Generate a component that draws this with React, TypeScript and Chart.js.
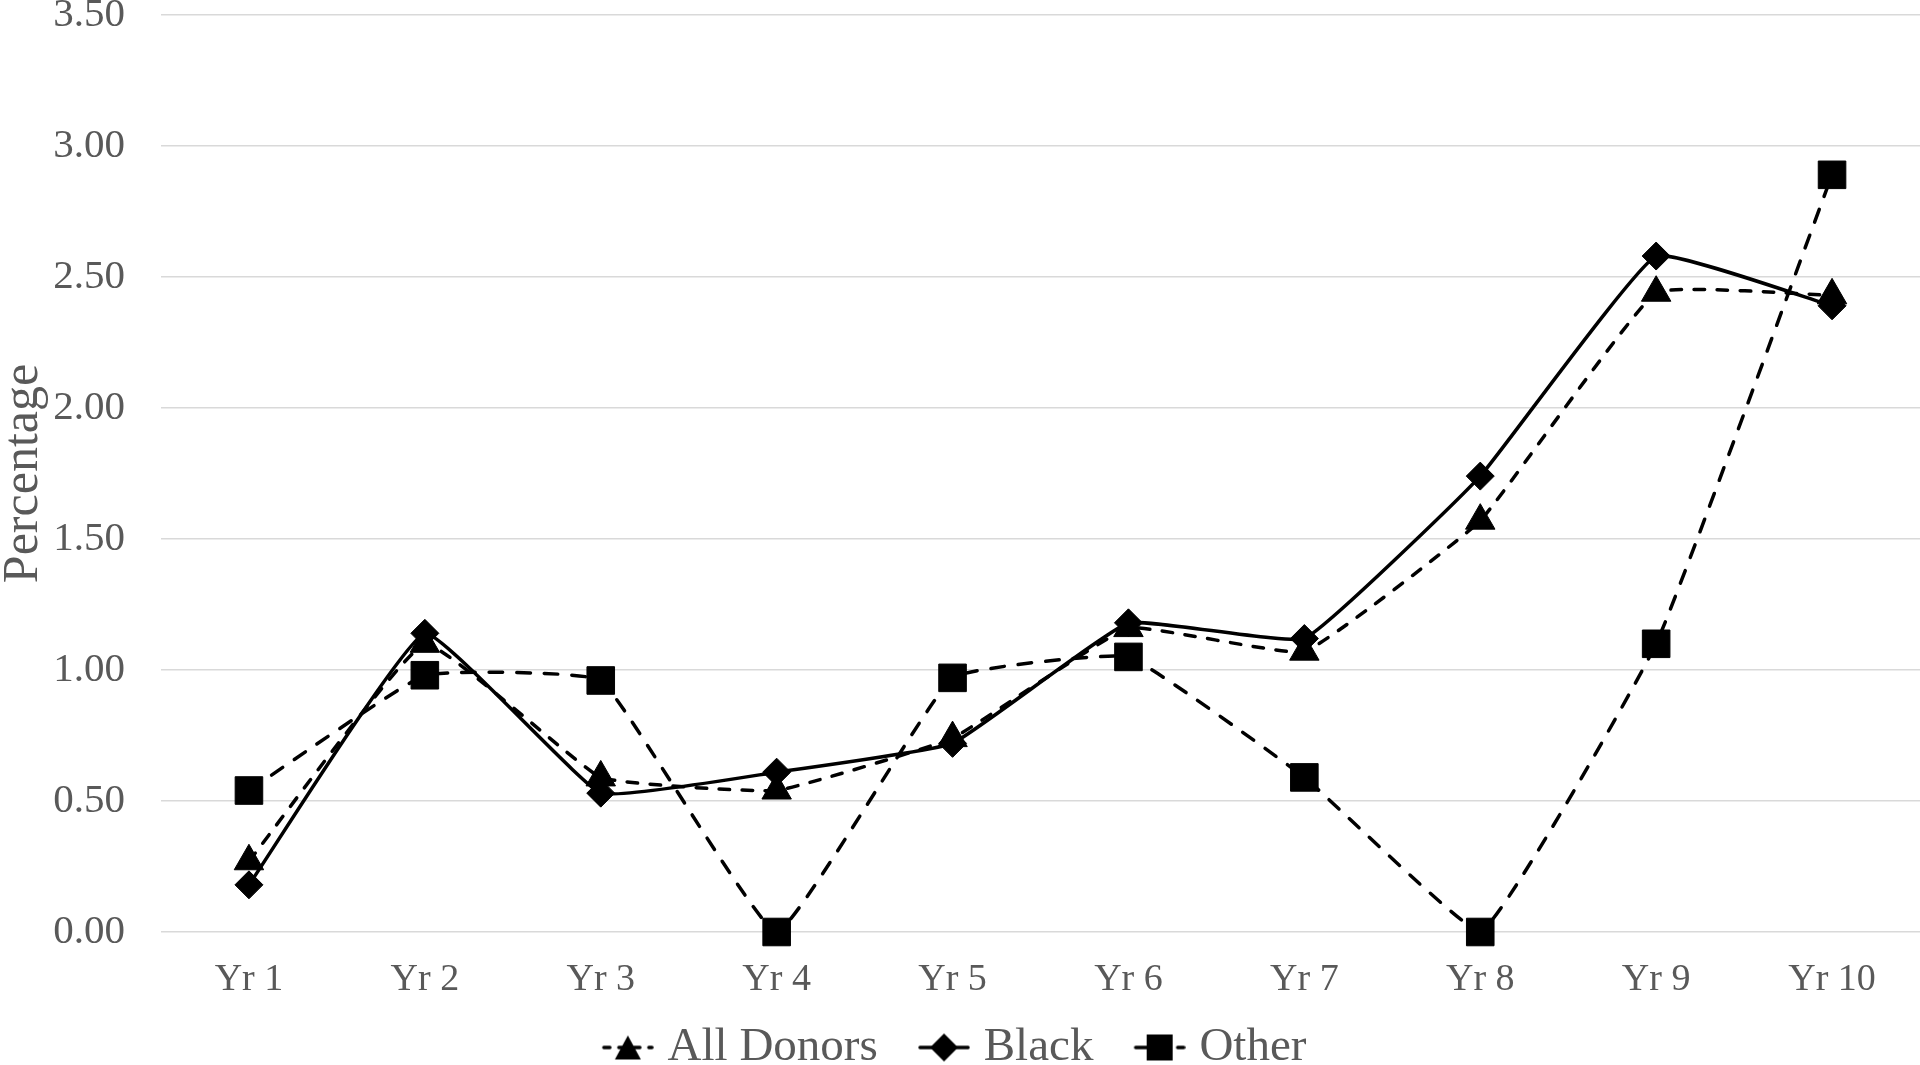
import React, { useEffect, useRef } from 'react';
import { Chart, registerables } from 'chart.js';

Chart.register(...registerables);

const categories = ['Yr 1', 'Yr 2', 'Yr 3', 'Yr 4', 'Yr 5', 'Yr 6', 'Yr 7', 'Yr 8', 'Yr 9', 'Yr 10'];
const allDonors = [0.27, 1.1, 0.59, 0.54, 0.74, 1.16, 1.07, 1.57, 2.44, 2.43];
const black = [0.18, 1.14, 0.53, 0.61, 0.72, 1.18, 1.12, 1.74, 2.58, 2.39];
const other = [0.54, 0.98, 0.96, 0.0, 0.97, 1.05, 0.59, 0.0, 1.1, 2.89];
const seriesNames = ['All Donors', 'Black', 'Other'];
const yMin = 0;
const yMax = 3.5;
const yStep = 0.5;
const yTitle = 'Percentage';

const FONT = "'Liberation Serif', 'Times New Roman', serif";
const TEXT = '#595959';

// legend icon: line with marker, drawn in the right part of a wider transparent canvas
function makeIcon(dash: number[], marker: 'triangle' | 'diamond' | 'square') {
  const c = document.createElement('canvas');
  c.width = 76;
  c.height = 30;
  const g = c.getContext('2d')!;
  const ox = 24;
  g.strokeStyle = '#000';
  g.lineWidth = 3.5;
  g.lineCap = 'round';
  g.setLineDash(dash);
  g.beginPath();
  g.moveTo(ox + 2, 15);
  g.lineTo(ox + 50, 15);
  g.stroke();
  g.setLineDash([]);
  g.fillStyle = '#000';
  g.beginPath();
  if (marker === 'triangle') {
    g.moveTo(ox + 26, 3);
    g.lineTo(ox + 39, 27);
    g.lineTo(ox + 13, 27);
  } else if (marker === 'diamond') {
    g.moveTo(ox + 26, 1);
    g.lineTo(ox + 40, 15);
    g.lineTo(ox + 26, 29);
    g.lineTo(ox + 12, 15);
  } else {
    g.rect(ox + 13, 2, 26, 26);
  }
  g.closePath();
  g.fill();
  return c;
}

export default function App() {
  const ref = useRef<HTMLCanvasElement | null>(null);

  useEffect(() => {
    if (!ref.current) return;
    const icons = [
      makeIcon([6, 9], 'triangle'),
      makeIcon([], 'diamond'),
      makeIcon([12, 30], 'square'),
    ];
    const common = {
      borderColor: '#000',
      backgroundColor: '#000',
      borderWidth: 3.5,
      borderCapStyle: 'round' as const,
      pointBorderWidth: 1,
      pointBackgroundColor: '#000',
      pointBorderColor: '#000',
      tension: 0.1,
      fill: false,
      clip: false as const,
    };
    const chart = new Chart(ref.current, {
      type: 'line',
      data: {
        labels: categories,
        datasets: [
          {
            ...common,
            label: seriesNames[0],
            data: allDonors,
            borderDash: [10.5, 12.5],
            pointStyle: 'triangle',
            pointRadius: 17,
            order: 2,
          },
          {
            ...common,
            label: seriesNames[1],
            data: black,
            borderCapStyle: 'butt',
            pointStyle: 'rectRot',
            pointRadius: 14,
            order: 1,
          },
          {
            ...common,
            label: seriesNames[2],
            data: other,
            borderDash: [13.5, 14],
            pointStyle: 'rect',
            pointRadius: 19.5,
            order: 0,
          },
        ],
      },
      options: {
        responsive: false,
        animation: false,
        layout: { autoPadding: false, padding: { top: 15, left: -26, right: 0, bottom: -16 } },
        scales: {
          x: {
            type: 'category',
            offset: true,
            grid: { display: false, drawTicks: false },
            border: { display: false },
            ticks: { color: TEXT, font: { family: FONT, size: 38 }, padding: 25, maxRotation: 0, autoSkip: false },
            afterFit: (s: any) => {
              s.height = 66;
              s.paddingLeft = 0;
              s.paddingRight = 0;
              s.paddingTop = 0;
              s.paddingBottom = 0;
            },
          },
          y: {
            min: yMin,
            max: yMax,
            grid: { color: '#d9d9d9', lineWidth: 1.5, drawTicks: false },
            border: { display: false },
            ticks: {
              stepSize: yStep,
              color: TEXT,
              font: { family: FONT, size: 41 },
              padding: 36,
              callback: (v: any) => Number(v).toFixed(2),
            },
            title: {
              display: true,
              text: yTitle,
              color: TEXT,
              font: { family: FONT, size: 50, lineHeight: 0.8 },
              padding: { top: 30, bottom: 0 },
            },
            afterFit: (s: any) => {
              s.width = 187;
              s.paddingLeft = 0;
              s.paddingRight = 0;
              s.paddingTop = 0;
              s.paddingBottom = 0;
            },
          },
        },
        plugins: {
          tooltip: { enabled: false },
          title: { display: false },
          legend: {
            display: true,
            position: 'bottom',
            labels: {
              usePointStyle: true,
              pointStyleWidth: 56.5,
              padding: 26,
              color: TEXT,
              font: { family: FONT, size: 47 },
              generateLabels: (ch: any) =>
                ch.data.datasets.map((d: any, i: number) => ({
                  text: d.label,
                  pointStyle: icons[i],
                  fillStyle: '#000',
                  strokeStyle: '#000',
                  lineWidth: 0,
                  hidden: false,
                  datasetIndex: i,
                  fontColor: TEXT,
                })),
            },
          },
        },
      },
    });
    return () => chart.destroy();
  }, []);

  return (
    <div style={{ position: 'absolute', left: 0, top: 0, width: 1920, height: 1065, background: '#fff' }}>
      <canvas ref={ref} width={1920} height={1065} style={{ display: 'block' }} />
    </div>
  );
}
